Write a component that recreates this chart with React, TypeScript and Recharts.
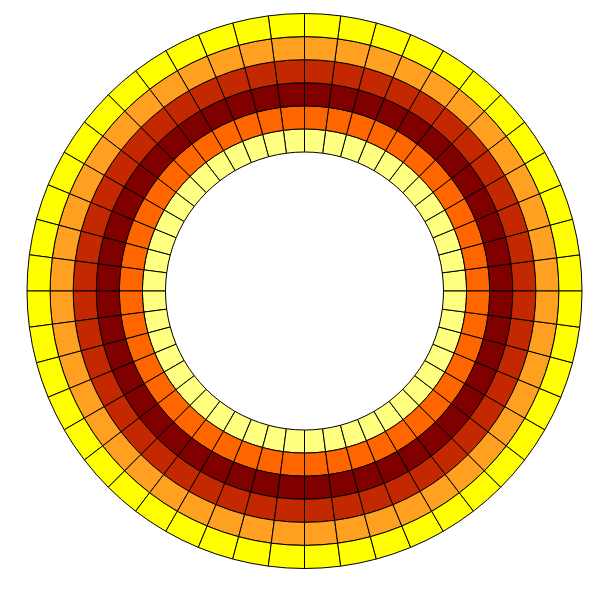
import { Cell, Pie, PieChart } from "recharts";

// rings from the inside out, one value per ring (constant around the circle)
const RING_VALUES = [0.1, 0.55, 1.0, 0.75, 0.4, 0.0];
const RING_COLORS = ["#ffff80", "#ff6600", "#800000", "#c42800", "#ffa020", "#ffff00"];

// 48 equal angular cells, starting at 0 degrees
const SECTOR_COUNT = 48;
const sectorData = Array.from({ length: SECTOR_COUNT }, (_, i) => ({ angle: i * (360 / SECTOR_COUNT), size: 1 }));

const INNER_RADIUS = 139;
const OUTER_RADIUS = 277.5;
const ringWidth = (OUTER_RADIUS - INNER_RADIUS) / RING_VALUES.length;

export default function App() {
  return (
    <div style={{ position: "absolute", left: 0, top: 0, width: 606, height: 591, background: "#fff" }}>
      <PieChart width={606} height={591} margin={{ top: 0, right: 0, bottom: 0, left: 0 }}>
        {RING_VALUES.map((value, ring) => (
          <Pie
            key={ring}
            data={sectorData}
            dataKey="size"
            nameKey="angle"
            cx={304.5}
            cy={291}
            innerRadius={INNER_RADIUS + ring * ringWidth}
            outerRadius={INNER_RADIUS + (ring + 1) * ringWidth}
            startAngle={0}
            endAngle={360}
            paddingAngle={0}
            stroke="#000"
            strokeWidth={1}
            isAnimationActive={false}
            label={false}
            labelLine={false}
          >
            {sectorData.map((d) => (
              <Cell key={`${ring}-${d.angle}`} fill={RING_COLORS[ring]} data-value={value} />
            ))}
          </Pie>
        ))}
      </PieChart>
    </div>
  );
}
